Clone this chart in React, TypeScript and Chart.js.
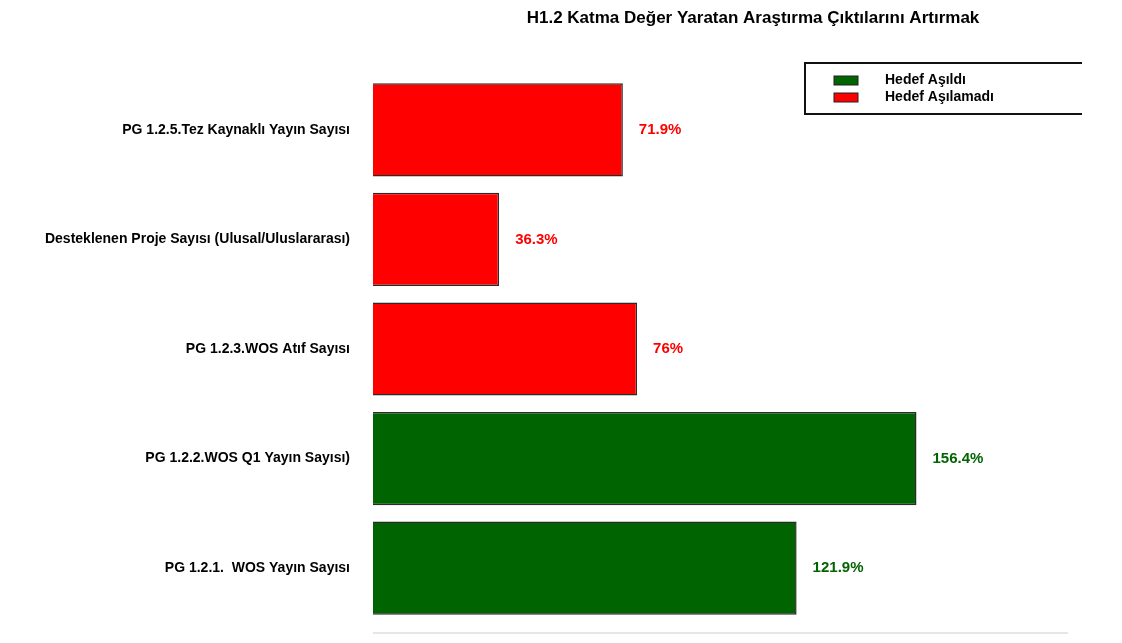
import React, { useEffect, useRef } from "react";
import { Chart, registerables } from "chart.js";

Chart.register(...registerables);

const categories = [
  "PG 1.2.5.Tez Kaynaklı Yayın Sayısı",
  "Desteklenen Proje Sayısı (Ulusal/Uluslararası)",
  "PG 1.2.3.WOS Atıf Sayısı",
  "PG 1.2.2.WOS Q1 Yayın Sayısı)",
  "PG 1.2.1.  WOS Yayın Sayısı",
];
const achievedValues: (number | null)[] = [null, null, null, 156.4, 121.9];
const notAchievedValues: (number | null)[] = [71.9, 36.3, 76, null, null];
const seriesNames = ["Hedef Aşıldı", "Hedef Aşılamadı"];
const titleText = "H1.2 Katma Değer Yaratan Araştırma Çıktılarını Artırmak";

const GREEN = "#006400";
const RED = "#FF0000";
const FONT = "'Liberation Sans', Arial, sans-serif";

const extrasPlugin = {
  id: "extras",
  afterDatasetsDraw(chart: any) {
    const ctx = chart.ctx;
    const area = chart.chartArea;
    ctx.save();
    ctx.fillStyle = "#000";
    ctx.font = `bold 17px ${FONT}`;
    ctx.textAlign = "center";
    ctx.textBaseline = "middle";
    ctx.fillText(titleText, 753, 18);

    ctx.font = `bold 15px ${FONT}`;
    ctx.textAlign = "left";
    chart.data.datasets.forEach((ds: any, di: number) => {
      const meta = chart.getDatasetMeta(di);
      meta.data.forEach((el: any, i: number) => {
        const v = ds.data[i];
        if (v === null || v === undefined) return;
        ctx.fillStyle = ds.backgroundColor;
        ctx.fillText(`${v}%`, el.x + 16, el.y);
      });
    });

    ctx.strokeStyle = "#e6e6e6";
    ctx.lineWidth = 2;
    ctx.beginPath();
    ctx.moveTo(area.left, area.bottom + 10);
    ctx.lineTo(area.right, area.bottom + 10);
    ctx.stroke();

    ctx.strokeStyle = "#111";
    ctx.lineWidth = 2;
    ctx.beginPath();
    ctx.moveTo(1082, 63);
    ctx.lineTo(805, 63);
    ctx.lineTo(805, 114);
    ctx.lineTo(1082, 114);
    ctx.stroke();

    chart.data.datasets.forEach((ds: any, di: number) => {
      const y = 80.5 + di * 17;
      ctx.fillStyle = ds.backgroundColor;
      ctx.fillRect(834, y - 4.5, 24, 9);
      ctx.strokeStyle = "#222";
      ctx.lineWidth = 1;
      ctx.strokeRect(834, y - 4.5, 24, 9);
      ctx.fillStyle = "#000";
      ctx.font = `bold 14px ${FONT}`;
      ctx.textAlign = "left";
      ctx.fillText(seriesNames[di], 885, y);
    });
    ctx.restore();
  },
};

export default function App() {
  const ref = useRef<HTMLCanvasElement | null>(null);
  useEffect(() => {
    document.body.style.margin = "0";
    if (!ref.current) return;
    const chart = new Chart(ref.current, {
      type: "bar",
      data: {
        labels: categories,
        datasets: [
          {
            label: seriesNames[0],
            data: achievedValues,
            backgroundColor: GREEN,
            borderColor: "#2a2a2a",
            borderWidth: 1.5,
            barPercentage: 0.85,
            categoryPercentage: 1,
          },
          {
            label: seriesNames[1],
            data: notAchievedValues,
            backgroundColor: RED,
            borderColor: "#2a2a2a",
            borderWidth: 1.5,
            barPercentage: 0.85,
            categoryPercentage: 1,
          },
        ],
      },
      options: {
        indexAxis: "y",
        animation: false,
        responsive: false,
        maintainAspectRatio: false,
        layout: { padding: { left: 0, right: 54, top: 75, bottom: 20 } },
        plugins: {
          legend: { display: false },
          title: { display: false },
          tooltip: { enabled: false },
        },
        scales: {
          x: {
            display: false,
            stacked: true,
            min: 0,
            max: 200,
          },
          y: {
            stacked: true,
            grid: { display: false, drawTicks: false },
            border: { display: false },
            ticks: {
              color: "#000",
              padding: 23,
              font: { family: FONT, size: 14, weight: "bold" },
            },
            afterFit(scale: any) {
              scale.width = 373;
              scale.paddingTop = 0;
              scale.paddingBottom = 0;
            },
          },
        },
      },
      plugins: [extrasPlugin],
    } as any);
    return () => chart.destroy();
  }, []);
  return (
    <div style={{ position: "absolute", left: 0, top: 0, width: 1122, height: 643, background: "#fff" }}>
      <canvas ref={ref} width={1122} height={643} style={{ width: 1122, height: 643 }} />
    </div>
  );
}
